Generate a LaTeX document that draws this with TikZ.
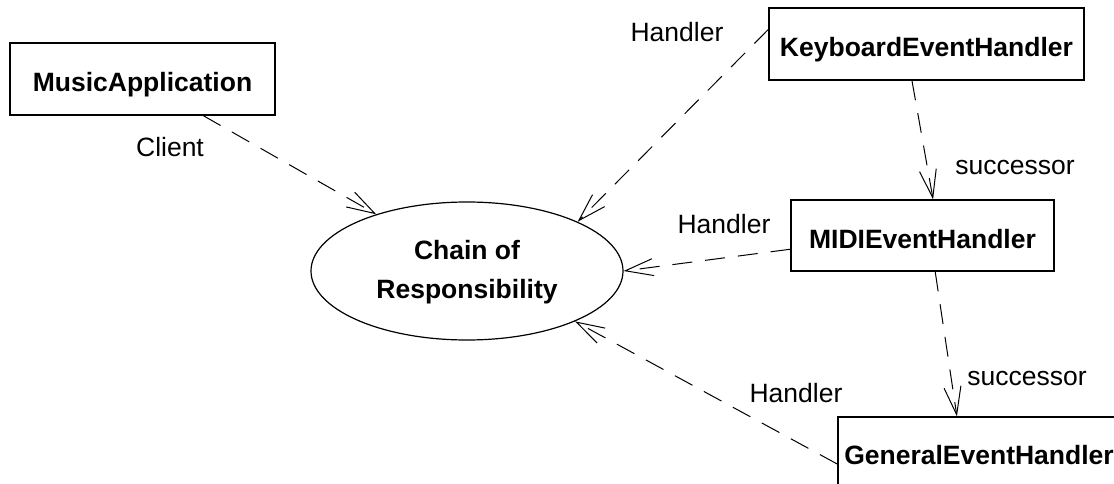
\documentclass[tikz,border=0pt]{standalone}
\usepackage{fontspec}
\setmainfont{Liberation Sans}
\usetikzlibrary{arrows.meta,shapes.geometric,calc}
\begin{document}
\begin{tikzpicture}[x=1pt,y=-1pt,
  every node/.style={font=\fontsize{26.5}{30}\selectfont, inner sep=0pt},
  classbox/.style={draw, line width=1.2pt, font=\fontsize{26.5}{30}\selectfont\bfseries,
    text height=25.4pt, text depth=0pt},
  usecase/.style={ellipse, draw, line width=1.2pt, minimum width=312pt, minimum height=138pt,
    font=\fontsize{26.5}{39}\selectfont\bfseries},
  role/.style={anchor=base},
  dep/.style={line width=1pt, dash pattern=on 20pt off 13pt,
    -{Straight Barb[length=28pt,width=17pt]}}]
\useasboundingbox (0,0) rectangle (1114,484);

% participants
\node[classbox, minimum width=265pt, minimum height=72pt] (ma) at (142.5,79) {MusicApplication};
\node[classbox, minimum width=315pt, minimum height=72pt] (kb) at (926.5,44) {KeyboardEventHandler};
\node[classbox, minimum width=263pt, minimum height=71pt] (midi) at (922.5,235.5) {MIDIEventHandler};
\node[classbox, minimum width=282pt, minimum height=70pt] (ge) at (979,452) {GeneralEventHandler};

% the pattern itself
\node[usecase] (cor) at (467,271)
  {\raisebox{-4pt}{\begin{tabular}{@{}c@{}}Chain of\\Responsibility\end{tabular}}};

% role names
\node[role] (rclient) at (170,157) {Client};
\node[role] (rkb) at (677,42) {Handler};
\node[role] (rmidi) at (724,233) {Handler};
\node[role] (rge) at (796,402) {Handler};
\node[role] (rsucc1) at (1015,175) {successor};
\node[role] (rsucc2) at (1027,385) {successor};

% dependencies
\draw[dep] ($(ma.south west)!0.728!(ma.south east)$) -- (cor.148);
\draw[dep] ($(kb.north west)!0.3!(kb.south west)$) -- (cor.24);
\draw[dep] ($(kb.south west)!0.454!(kb.south east)$) -- ($(midi.north west)!0.54!(midi.north east)$);
\draw[dep] ($(midi.north west)!0.69!(midi.south west)$) -- (cor.0);
\draw[dep] ($(midi.south west)!0.548!(midi.south east)$) -- ($(ge.north west)!0.422!(ge.north east)$);
\draw[dep] ($(ge.north west)!0.67!(ge.south west)$) -- (cor.-25);
\end{tikzpicture}
\end{document}
